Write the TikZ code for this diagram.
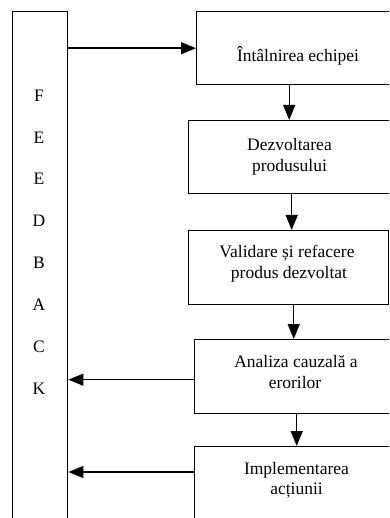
\documentclass[tikz,border=0pt]{standalone}
\usepackage{fontspec}
\setmainfont{Liberation Serif}
\usetikzlibrary{arrows.meta}
\tikzset{
  boxnode/.style={draw, line width=1.4pt, minimum width=203pt, inner sep=0pt, anchor=north west},
  txt/.style={anchor=base, inner sep=0pt, font=\fontsize{17.5}{21}\selectfont},
  arr/.style={line width=1.4pt, -{Triangle[length=15pt,width=12pt]}},
}
\begin{document}
\begin{tikzpicture}[x=1pt,y=-1pt]
\useasboundingbox (0,0) rectangle (389,518);
\clip (0,0) rectangle (389,518);
% feedback column
\node[boxnode, minimum width=55pt, minimum height=560pt] (fb) at (12,11) {};
\node[txt] (l1) at (39,102) {F};
\node[txt] (l2) at (39,143.5) {E};
\node[txt] (l3) at (39,185) {E};
\node[txt] (l4) at (39,226.5) {D};
\node[txt] (l5) at (39,268) {B};
\node[txt] (l6) at (39,310) {A};
\node[txt] (l7) at (39,352) {C};
\node[txt] (l8) at (39,394) {K};
% boxes
\node[boxnode, minimum height=73pt] (b1) at (196,11) {};
\node[boxnode, minimum height=73pt] (b2) at (188,120) {};
\node[boxnode, minimum width=200pt, minimum height=74pt] (b3) at (188,230) {};
\node[boxnode, minimum height=74pt] (b4) at (194,339) {};
\node[boxnode, minimum width=205pt, minimum height=120pt] (b5) at (194,446) {};
% texts
\node[txt] (t1) at (298,62) {Întâlnirea echipei};
\node[txt] (t2a) at (289.5,151) {Dezvoltarea};
\node[txt] (t2b) at (289.5,172) {produsului};
\node[txt] (t3a) at (287,257) {Validare și refacere};
\node[txt] (t3b) at (289,278) {produs dezvoltat};
\node[txt] (t4a) at (296,367) {Analiza cauzală a};
\node[txt] (t4b) at (295,388) {erorilor};
\node[txt] (t5a) at (296.5,474) {Implementarea};
\node[txt] (t5b) at (296.5,494) {acțiunii};
% connectors
\draw[arr] (b1.west -| fb.east) -- (b1.west);
\draw[arr] ([xshift=-9pt]b1.south) -- ([xshift=-9pt]b1.south |- b2.north);
\draw[arr] ([xshift=1.5pt]b2.south) -- ([xshift=1.5pt]b2.south |- b3.north);
\draw[arr] ([xshift=5pt]b3.south) -- ([xshift=5pt]b3.south |- b4.north);
\draw[arr] ([xshift=0.5pt]b4.south) -- ([xshift=0.5pt]b4.south |- b5.north);
\draw[arr] ([yshift=-3pt]b4.west) -- ([yshift=-3pt]b4.west -| fb.east);
\draw[arr] ([yshift=-26pt]b5.north west) -- ([yshift=-26pt]b5.north west -| fb.east);
\end{tikzpicture}
\end{document}
